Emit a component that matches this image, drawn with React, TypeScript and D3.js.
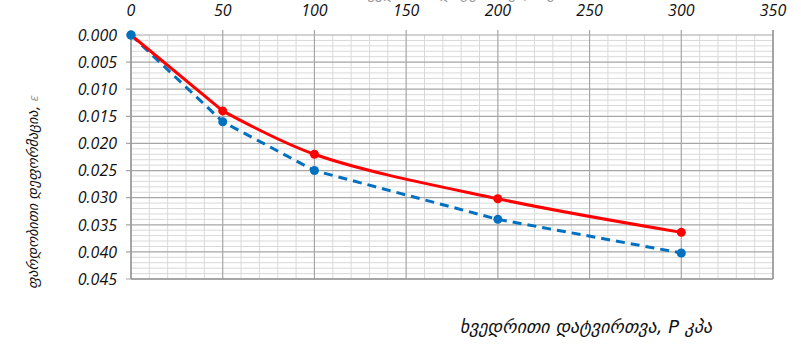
import React from "react";
import * as d3 from "d3";

// Specific load P (kPa) versus relative strain ε
const loads = [0, 50, 100, 200, 300];
const strainSolid = [0, 0.014, 0.022, 0.0302, 0.0364];
const strainDashed = [0, 0.016, 0.025, 0.034, 0.0402];

const xTicks = [0, 50, 100, 150, 200, 250, 300, 350];
const yTicks = [0, 0.005, 0.01, 0.015, 0.02, 0.025, 0.03, 0.035, 0.04, 0.045];

const xTitle = "ხვედრითი დატვირთვა, P  კპა";
const yTitle = "ფარდობითი დეფორმაცია, ";

const W = 801;
const H = 344;
const left = 131;
const right = 773;
const top = 35;
const bottom = 279;

export default function App() {
  const x = d3.scaleLinear().domain([0, 350]).range([left, right]);
  const y = d3.scaleLinear().domain([0, 0.045]).range([top, bottom]);

  const minorX = d3.range(0, 351, 10).filter((v) => v % 50 !== 0);
  const minorY = d3.range(0, 46, 1).filter((v) => v % 5 !== 0).map((v) => v / 1000);

  const solidPts = loads.map((p, i) => [x(p), y(strainSolid[i])] as [number, number]);
  const dashedPts = loads.map((p, i) => [x(p), y(strainDashed[i])] as [number, number]);

  // solid series: straight first leg, smoothed afterwards
  const smooth = d3.line().curve(d3.curveCatmullRom.alpha(0.5));
  const straight = d3.line();
  const solidPath =
    (straight(solidPts.slice(0, 2)) ?? "") + (smooth(solidPts.slice(1)) ?? "");

  const tickFont = {
    fontFamily: "'Open Sans', sans-serif",
    fontStyle: "italic" as const,
    fontSize: 16,
    fill: "#111",
  };

  return (
    <svg
      width={W}
      height={H}
      style={{ position: "absolute", left: 0, top: 0, background: "#fff" }}
    >
      {/* minor grid */}
      {minorX.map((v) => (
        <line key={"mx" + v} x1={x(v)} x2={x(v)} y1={top} y2={bottom} stroke="#d9d9d9" strokeWidth={1} />
      ))}
      {minorY.map((v) => (
        <line key={"my" + v} x1={left} x2={right} y1={y(v)} y2={y(v)} stroke="#d9d9d9" strokeWidth={1} />
      ))}
      {/* major grid */}
      {xTicks.map((v) => (
        <line key={"gx" + v} x1={x(v)} x2={x(v)} y1={top - 5} y2={bottom} stroke="#a6a6a6" strokeWidth={1.2} />
      ))}
      {yTicks.map((v) => (
        <line key={"gy" + v} x1={left - 5} x2={right} y1={y(v)} y2={y(v)} stroke="#a6a6a6" strokeWidth={1.2} />
      ))}
      {/* frame */}
      <line x1={left} x2={left} y1={top} y2={bottom} stroke="#999" strokeWidth={1.5} />
      <line x1={left} x2={right} y1={bottom} y2={bottom} stroke="#999" strokeWidth={1.5} />
      <line x1={right} x2={right} y1={top - 5} y2={bottom} stroke="#999" strokeWidth={1.5} />

      {/* tick labels */}
      {xTicks.map((v) => (
        <text key={"tx" + v} x={x(v)} y={16} textAnchor="middle" {...tickFont}>
          {v}
        </text>
      ))}
      {yTicks.map((v) => (
        <text key={"ty" + v} x={117} y={y(v)} dy="0.36em" textAnchor="end" {...tickFont}>
          {v.toFixed(3)}
        </text>
      ))}

      {/* series */}
      <path
        d={straight(dashedPts) ?? ""}
        fill="none"
        stroke="#0070c0"
        strokeWidth={3}
        strokeDasharray="9 6"
      />
      {dashedPts.map(([px, py], i) => (
        <circle key={"db" + i} cx={px} cy={py} r={4.5} fill="#0070c0" />
      ))}
      <path d={solidPath} fill="none" stroke="#ff0000" strokeWidth={3} />
      {solidPts.map(([px, py], i) =>
        i === 0 ? null : <circle key={"sr" + i} cx={px} cy={py} r={4.5} fill="#ff0000" />
      )}
      <circle cx={dashedPts[0][0]} cy={dashedPts[0][1]} r={4.5} fill="#0070c0" />

      {/* axis titles */}
      <text
        x={586}
        y={333}
        textAnchor="middle"
        fontFamily="'DejaVu Sans', sans-serif"
        fontStyle="italic"
        fontSize={18}
        fill="#111"
      >
        {xTitle}
      </text>
      <text
        x={465}
        y={-1.5}
        textAnchor="middle"
        fontFamily="'DejaVu Sans', sans-serif"
        fontStyle="italic"
        fontSize={15}
        fill="#999"
      >
        {xTitle}
      </text>
      <text
        transform={`translate(38,192) rotate(-90)`}
        textAnchor="middle"
        fontFamily="'DejaVu Sans', sans-serif"
        fontStyle="italic"
        fontSize={14}
        fill="#111"
      >
        {yTitle}
        <tspan fill="#999" fontSize={12}>ε</tspan>
      </text>
    </svg>
  );
}
